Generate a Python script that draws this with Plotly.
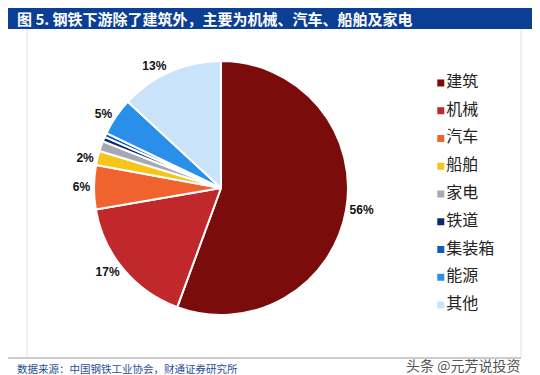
import plotly.graph_objects as go

W, H = 540, 375

categories = ["建筑", "机械", "汽车", "船舶", "家电", "铁道", "集装箱", "能源", "其他"]
shares = [55.6, 16.7, 5.6, 1.8, 1.3, 0.6, 0.5, 4.8, 13.1]
colors = ["#7B0C0C", "#C0282B", "#F0632F", "#F5C518", "#A6A9B3",
          "#0A2A6E", "#1359B8", "#2A8FE8", "#C9E3FA"]
title_text = "图 5. 钢铁下游除了建筑外，主要为机械、汽车、船舶及家电"
source_text = "数据来源：中国钢铁工业协会，财通证券研究所"
watermark_text = "头条 @元芳说投资"

labels_txt = [f"{v:.0f}%" if v >= 1.5 else "" for v in shares]

def px_x(p):
    return p / W

def px_y(p):
    return 1 - p / H

fig = go.Figure()

fig.add_trace(go.Pie(
    labels=categories,
    values=shares,
    sort=False,
    direction="clockwise",
    rotation=0,
    text=labels_txt,
    textinfo="text",
    textposition="outside",
    textfont=dict(family="Liberation Sans", size=12, color="#111111", weight="bold"),
    marker=dict(colors=colors, line=dict(color="white", width=2)),
    domain=dict(x=[px_x(86), px_x(340)], y=[px_y(307), px_y(53)]),
    showlegend=False,
    hoverinfo="label+percent",
))

# custom legend drawn as a scatter on its own axes
fig.add_trace(go.Scatter(
    x=[0] * len(categories),
    y=categories,
    mode="markers+text",
    marker=dict(symbol="square", size=7, color=colors),
    text=categories,
    textposition="middle right",
    textfont=dict(family="Noto Sans CJK SC", size=16, color="#222222"),
    showlegend=False,
    hoverinfo="skip",
    xaxis="x", yaxis="y",
))

fig.update_layout(
    width=W, height=H,
    margin=dict(l=0, r=0, t=0, b=0),
    paper_bgcolor="white",
    plot_bgcolor="rgba(0,0,0,0)",
    xaxis=dict(domain=[px_x(428), 1.0], range=[-1, 22.4], visible=False, fixedrange=True),
    yaxis=dict(domain=[px_y(310.9), px_y(61.1)], type="category",
               range=[len(categories) - 0.5, -0.5], visible=False, fixedrange=True),
    shapes=[
        dict(type="rect", xref="paper", yref="paper",
             x0=0, x1=px_x(530), y0=px_y(21), y1=1,
             fillcolor="#0B3F93", line=dict(width=0), layer="below"),
        dict(type="line", xref="paper", yref="paper",
             x0=px_x(19), x1=px_x(19), y0=px_y(350), y1=px_y(21),
             line=dict(color="#E2E2E2", width=1)),
        dict(type="line", xref="paper", yref="paper",
             x0=px_x(513), x1=px_x(513), y0=px_y(350), y1=px_y(21),
             line=dict(color="#E2E2E2", width=1)),
        dict(type="line", xref="paper", yref="paper",
             x0=0, x1=px_x(513), y0=px_y(350), y1=px_y(350),
             line=dict(color="#9A9A9A", width=1)),
    ],
    annotations=[
        dict(text=title_text, xref="paper", yref="paper",
             x=px_x(7), y=px_y(10.5), xanchor="left", yanchor="middle",
             showarrow=False,
             font=dict(family="Noto Sans CJK SC", size=15, color="white", weight="bold")),
        dict(text=source_text, xref="paper", yref="paper",
             x=px_x(8), y=px_y(360), xanchor="left", yanchor="middle",
             showarrow=False, borderpad=0,
             font=dict(family="Noto Sans CJK SC", size=10.5, color="#1F4E9C")),
        dict(text=watermark_text, xref="paper", yref="paper",
             x=px_x(514), y=px_y(357), xanchor="right", yanchor="middle",
             showarrow=False,
             font=dict(family="Noto Sans CJK SC", size=14, color="#555555")),
    ],
)

fig.write_html("out.html")
